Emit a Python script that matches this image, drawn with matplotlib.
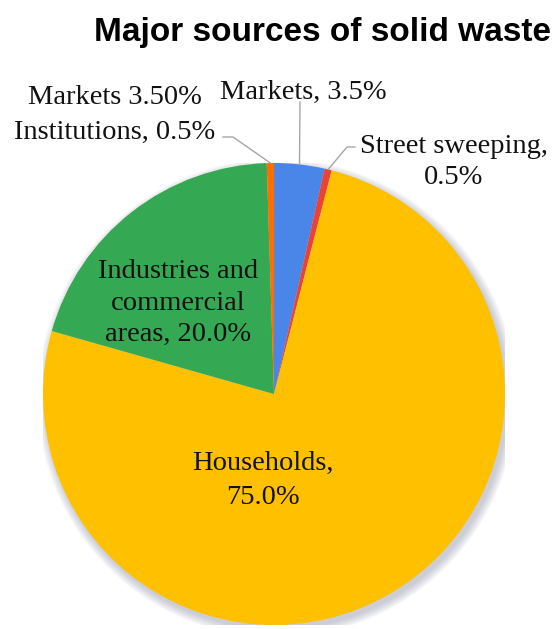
import numpy as np
import matplotlib
matplotlib.use("Agg")
import matplotlib.pyplot as plt
from matplotlib.patches import Circle

# Sources of solid waste, drawn clockwise from 12 o'clock
categories = ["Markets", "Street sweeping", "Households",
              "Industries and commercial areas", "Institutions"]
shares = [3.5, 0.5, 75.0, 20.0, 0.5]
colors = ["#4A86E8", "#EA4335", "#FFC000", "#34A853", "#FF6D01"]

title = "Major sources of solid waste"
W, H = 554, 629
fig = plt.figure(figsize=(W / 100, H / 100), dpi=100)

# pie axes: centre (274, 394) px, radius 231 px
cx, cy, r = 274, 394, 231
ax = fig.add_axes([(cx - r) / W, (H - cy - r) / H, 2 * r / W, 2 * r / H])

# soft drop shadow behind the pie
for k in range(10):
    ax.add_patch(Circle((0.012, -0.018), 1.0 + 0.004 * k, color="#7a7f99",
                        alpha=0.045, lw=0, zorder=0))

wedges, _ = ax.pie(shares, colors=colors, startangle=90, counterclock=False,
                   radius=1.0, wedgeprops=dict(linewidth=0))
for w in wedges:
    w.set_zorder(2)
ax.set_xlim(-1, 1)
ax.set_ylim(-1, 1)
ax.set_aspect("equal")
ax.axis("off")

serif = ["Liberation Serif", "DejaVu Serif"]
fs = 20.5
tc = "#111111"


def px(x, y):
    """pixel position -> pie data coordinates"""
    return (x - cx) / r, (cy - y) / r


def edge(i, rad=1.0):
    """point on the rim at the middle of wedge i"""
    w = wedges[i]
    a = np.deg2rad(0.5 * (w.theta1 + w.theta2))
    return rad * np.cos(a), rad * np.sin(a)


def lbl(i):
    return f"{categories[i]}, {shares[i]:.1f}%"


# inside labels
ax.text(*px(263, 480), "Households,\n75.0%", ha="center", va="center",
        fontsize=fs, family=serif, color=tc, linespacing=1.48, zorder=5)
ax.text(*px(178, 303), "Industries and\ncommercial\nareas, 20.0%", ha="center",
        va="center", fontsize=fs, family=serif, color=tc, linespacing=1.32, zorder=5)

# outside labels with leader lines
lc = "#a6a6a6"
ax.text(*px(303, 92), lbl(0), ha="center", va="center", fontsize=fs,
        family=serif, color=tc, clip_on=False)
ax.plot(*zip(px(300, 102), edge(0, 1.0)), color=lc, lw=1, clip_on=False)

ax.text(*px(115, 132), lbl(4), ha="center", va="center", fontsize=fs,
        family=serif, color=tc, clip_on=False)
ax.plot(*zip(px(223, 137), px(233, 137), edge(4, 1.0)), color=lc, lw=1,
        clip_on=False)

ax.text(*px(115, 97), "Markets 3.50%", ha="center", va="center", fontsize=fs,
        family=serif, color=tc, clip_on=False)

ax.text(*px(454, 162), "Street sweeping,\n0.5%", ha="center", va="center",
        fontsize=fs, family=serif, color=tc, linespacing=1.32, clip_on=False)
ax.plot(*zip(px(355, 147), px(347, 147), edge(1, 1.0)), color=lc, lw=1,
        clip_on=False)

fig.text(322 / W, 1 - 32 / H, title, ha="center", va="center", fontsize=24,
         fontweight="bold", family=["Liberation Sans", "DejaVu Sans"], color="#000000")

fig.savefig("out.png", dpi=100, facecolor="white")
